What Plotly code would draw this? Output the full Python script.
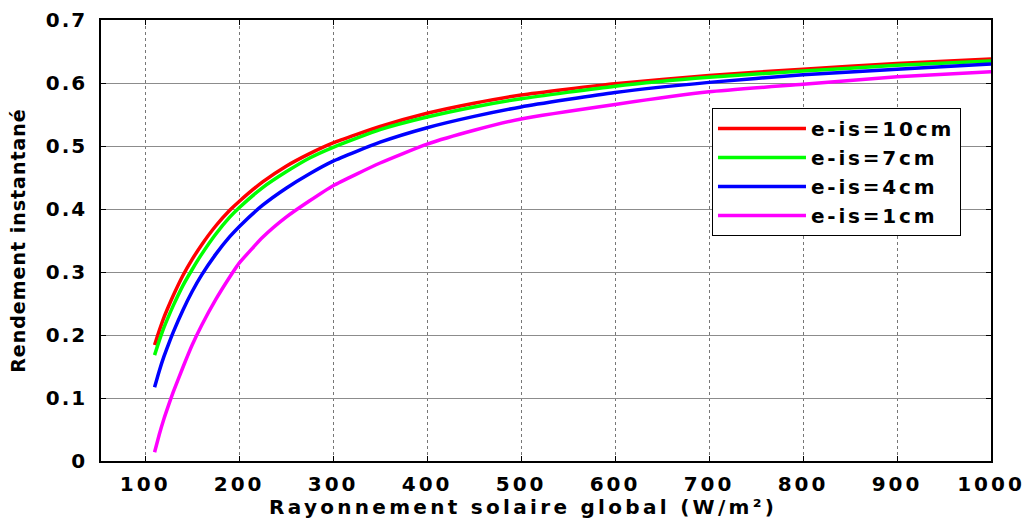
import plotly.graph_objects as go

# Data
rayonnement = [110, 115, 120, 125, 130, 140, 150, 160, 175, 190, 200, 225, 250, 275,
               300, 350, 400, 450, 500, 600, 700, 800, 900, 1000]
e10 = [0.184, 0.207, 0.228, 0.246, 0.263, 0.294, 0.320, 0.343, 0.373, 0.398, 0.412, 0.443,
       0.468, 0.488, 0.505, 0.531, 0.552, 0.568, 0.581, 0.599, 0.612, 0.622, 0.631, 0.638]
e7 = [0.168, 0.191, 0.212, 0.230, 0.247, 0.278, 0.304, 0.328, 0.360, 0.387, 0.402, 0.434,
      0.459, 0.481, 0.498, 0.526, 0.546, 0.562, 0.575, 0.595, 0.609, 0.619, 0.628, 0.635]
e4 = [0.117, 0.143, 0.166, 0.186, 0.205, 0.239, 0.269, 0.295, 0.328, 0.356, 0.372, 0.406,
      0.433, 0.456, 0.476, 0.506, 0.529, 0.547, 0.562, 0.585, 0.601, 0.613, 0.622, 0.630]
e1 = [0.014, 0.042, 0.067, 0.089, 0.110, 0.148, 0.184, 0.215, 0.256, 0.292, 0.314, 0.355,
      0.387, 0.413, 0.437, 0.473, 0.503, 0.525, 0.543, 0.566, 0.586, 0.598, 0.610, 0.618]

series_names = ["e-is=10cm", "e-is=7cm", "e-is=4cm", "e-is=1cm"]
series_values = [e10, e7, e4, e1]
series_colors = ["#ff0000", "#00ff00", "#0000ff", "#ff00ff"]

x_ticks = [100, 200, 300, 400, 500, 600, 700, 800, 900, 1000]
y_ticks = [0, 0.1, 0.2, 0.3, 0.4, 0.5, 0.6, 0.7]
x_tick_labels = [str(v) for v in x_ticks]
y_tick_labels = ["0", "0.1", "0.2", "0.3", "0.4", "0.5", "0.6", "0.7"]

x_title = "Rayonnement solaire global (W/m²)"
y_title = "Rendement instantané"

FONT = "DejaVu Sans"


def spaced(text, ls):
    return f'<span style="letter-spacing:{ls}px">{text}</span>'


fig = go.Figure()
for name, vals, col in zip(series_names, series_values, series_colors):
    fig.add_trace(go.Scatter(
        x=rayonnement, y=vals, mode="lines", name=spaced(name, 2.8),
        line=dict(color=col, width=3.5, shape="spline", smoothing=0.5),
    ))

axis_common = dict(
    showline=True, linecolor="black", linewidth=1.5, mirror="ticks",
    ticks="inside", ticklen=5, tickcolor="black", tickwidth=1,
    showgrid=True, zeroline=False, automargin=False,
    ticklabeloverflow="allow",
    tickfont=dict(family=FONT, size=20, color="black", weight="bold"),
)

fig.update_layout(
    width=1024, height=521,
    margin=dict(l=101, r=33, t=20, b=60),
    paper_bgcolor="white", plot_bgcolor="white",
    font=dict(family=FONT, color="black"),
    showlegend=True,
    legend=dict(
        x=0.6865, y=0.8005, xanchor="left", yanchor="top",
        bgcolor="white", bordercolor="black", borderwidth=1,
        font=dict(family=FONT, size=20, color="black", weight="bold"),
        itemwidth=88, tracegroupgap=0,
    ),
    annotations=[dict(
        text=spaced(x_title, 3.3), xref="paper", yref="paper",
        x=0.474, y=-0.104, xanchor="center", yanchor="middle", showarrow=False,
        font=dict(family=FONT, size=20, color="black", weight="bold"),
    )],
)

fig.update_xaxes(
    range=[53, 1000],
    tickvals=x_ticks, ticktext=[spaced(t, 3) for t in x_tick_labels],
    gridcolor="#777777", griddash="dot", gridwidth=1,
    ticklabelstandoff=4,
    **axis_common,
)
fig.update_yaxes(
    range=[0, 0.7],
    tickvals=y_ticks, ticktext=[spaced(t, 2) for t in y_tick_labels],
    gridcolor="#8c8c8c", gridwidth=1,
    ticklabelstandoff=8,
    title=dict(text=spaced(y_title, 1), standoff=15,
               font=dict(family=FONT, size=19, color="black", weight="bold")),
    **axis_common,
)

fig.write_html(
    "out.html",
    config={"displayModeBar": False},
    post_script="document.body.style.margin='0';document.body.style.overflow='hidden';",
)
